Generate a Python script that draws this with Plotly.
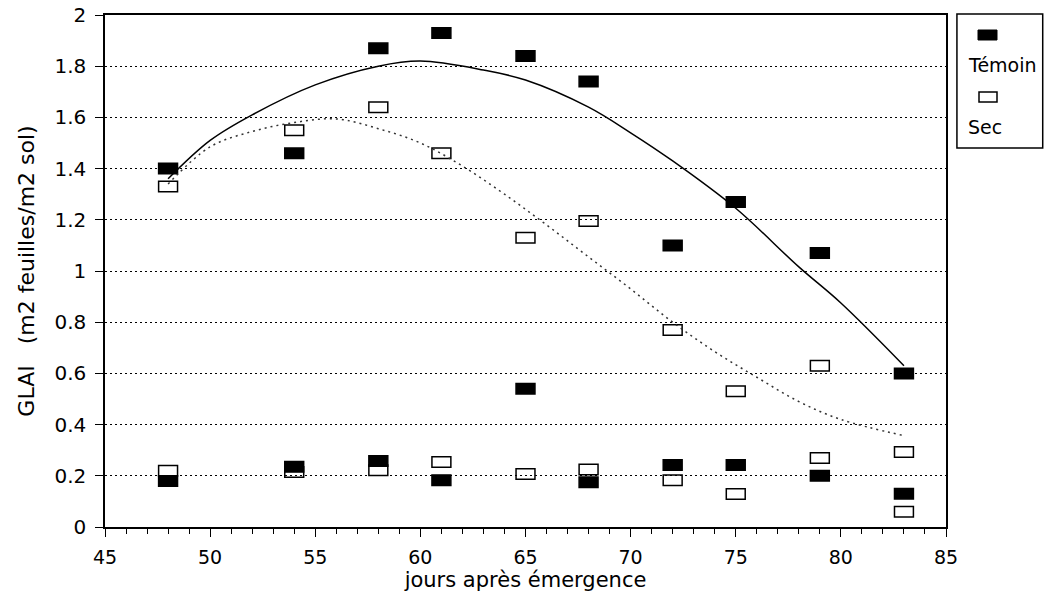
import plotly.graph_objects as go

# ---- data ----
days = [48, 54, 58, 61, 65, 68, 72, 75, 79, 83]

temoin_a = [1.40, 1.46, 1.87, 1.93, 1.84, 1.74, 1.10, 1.27, 1.07, 0.60]
temoin_b = [0.18, 0.235, 0.258, 0.183, 0.54, 0.175, 0.242, 0.242, 0.20, 0.13]
sec_a = [1.33, 1.55, 1.64, 1.46, 1.13, 1.195, 0.77, 0.53, 0.63, 0.293]
sec_b = [0.22, 0.215, 0.222, 0.254, 0.207, 0.225, 0.183, 0.129, 0.27, 0.06]

# fitted curves as drawn in the reference
curve_t_x = [48, 50, 52, 55, 58, 60, 63, 65, 68, 70, 72, 75, 78, 80, 83]
curve_t_y = [1.36, 1.51, 1.61, 1.727, 1.80, 1.82, 1.785, 1.746, 1.64, 1.54, 1.43, 1.245, 1.016, 0.875, 0.63]
curve_s_x = [48, 50, 52, 54, 56, 58, 60, 62, 64, 66, 68, 70, 72, 74, 76, 78, 80, 83]
curve_s_y = [1.34, 1.485, 1.545, 1.58, 1.594, 1.556, 1.50, 1.41, 1.30, 1.18, 1.055, 0.93, 0.80, 0.685, 0.585, 0.49, 0.42, 0.357]

y_ticks = [0, 0.2, 0.4, 0.6, 0.8, 1, 1.2, 1.4, 1.6, 1.8, 2]
y_tick_labels = ["0", "0.2", "0.4", "0.6", "0.8", "1", "1.2", "1.4", "1.6", "1.8", "2"]
x_ticks = [45, 50, 55, 60, 65, 70, 75, 80, 85]

BOX_W = 0.9     # marker width in days
BOX_H = 0.041   # marker height in GLAI units
FONT = "DejaVu Sans, Verdana, sans-serif"

fig = go.Figure()

def rect_trace(xs, ys, filled, name):
    return go.Bar(
        x=xs, y=[BOX_H] * len(ys), base=[v - BOX_H / 2 for v in ys],
        width=BOX_W, name=name, showlegend=False,
        marker=dict(color="black" if filled else "rgba(0,0,0,0)",
                    line=dict(color="black", width=1.5)),
    )

fig.add_trace(rect_trace(days, temoin_a, True, "Témoin"))
fig.add_trace(rect_trace(days, temoin_b, True, "Témoin"))
fig.add_trace(rect_trace(days, sec_a, False, "Sec"))
fig.add_trace(rect_trace(days, sec_b, False, "Sec"))

fig.add_trace(go.Scatter(x=curve_t_x, y=curve_t_y, mode="lines", line_shape="spline",
                         line=dict(color="black", width=1.5), showlegend=False))
fig.add_trace(go.Scatter(x=curve_s_x, y=curve_s_y, mode="lines", line_shape="spline",
                         line=dict(color="#333", width=1.5, dash="2px,4px"), showlegend=False))

# manual legend box
fig.add_shape(type="rect", xref="paper", yref="paper", x0=1.013, x1=1.115, y0=0.740, y1=1.002,
              line=dict(color="black", width=1.5), fillcolor="white")
fig.add_shape(type="rect", xref="paper", yref="paper", x0=(978 - 105) / 841, x1=(997 - 105) / 841,
              y0=(527 - 40) / 512, y1=(527 - 30) / 512, line=dict(color="black", width=1), fillcolor="black")
fig.add_shape(type="rect", xref="paper", yref="paper", x0=(979 - 105) / 841, x1=(997 - 105) / 841,
              y0=(527 - 102) / 512, y1=(527 - 92) / 512, line=dict(color="black", width=1.5), fillcolor="white")
fig.add_annotation(text="Témoin", xref="paper", yref="paper", x=(966 - 105) / 841, y=(527 - 65) / 512,
                   xanchor="left", yanchor="middle", showarrow=False, font=dict(size=19, color="black", family=FONT))
fig.add_annotation(text="Sec", xref="paper", yref="paper", x=(966 - 105) / 841, y=(527 - 127) / 512,
                   xanchor="left", yanchor="middle", showarrow=False, font=dict(size=19, color="black", family=FONT))

fig.update_layout(
    width=1046, height=596,
    margin=dict(l=105, r=100, t=15, b=69, autoexpand=False),
    paper_bgcolor="white", plot_bgcolor="white",
    barmode="overlay",
    font=dict(family=FONT, size=19, color="black"),
    xaxis=dict(
        range=[45, 85], tickvals=x_ticks, ticks="outside", ticklen=8, tickwidth=1.2,
        tickcolor="black", showline=True, linecolor="black", linewidth=1.5, mirror=True,
        showgrid=False, zeroline=False, ticklabelstandoff=4, automargin=False,
        minor=dict(dtick=1, tick0=45, ticks="outside", ticklen=5, tickcolor="black", showgrid=False),
        title=dict(text="jours après émergence", font=dict(size=21), standoff=4),
        tickfont=dict(size=19),
    ),
    yaxis=dict(
        range=[0, 2], tickvals=y_ticks, ticktext=y_tick_labels, ticks="outside", ticklen=8,
        tickwidth=1.2, tickcolor="black", showline=True, linecolor="black", linewidth=1.5,
        mirror=True, showgrid=True, gridcolor="black", gridwidth=1.3, griddash="2px,3px",
        zeroline=False, ticklabelstandoff=5, automargin=False,
        title=dict(text="GLAI   (m2 feuilles/m2 sol)", font=dict(size=22), standoff=14),
        tickfont=dict(size=20),
    ),
)

fig.write_html("out.html")
